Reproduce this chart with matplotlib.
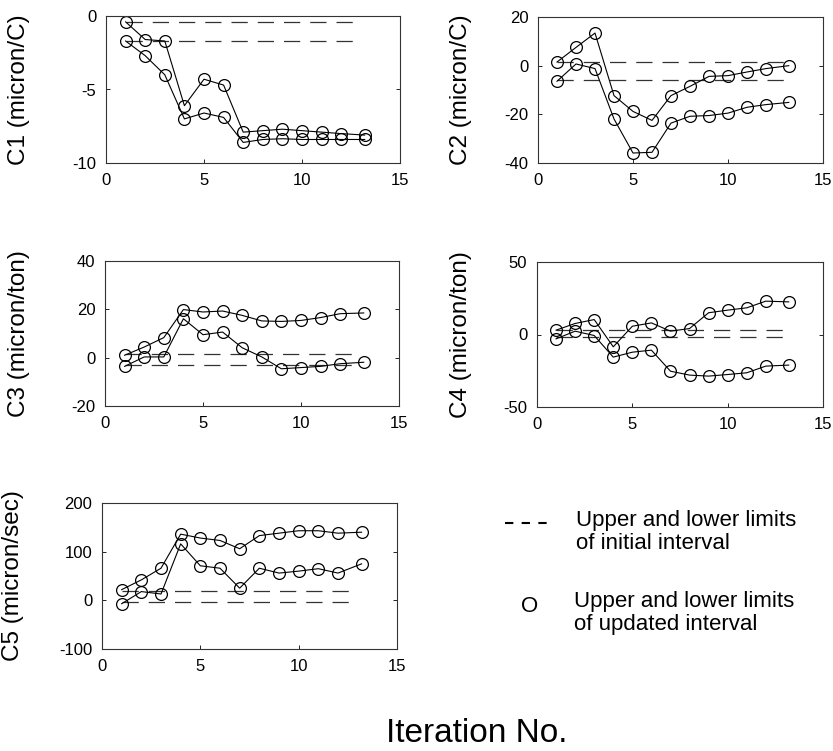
import matplotlib
matplotlib.use("Agg")
import matplotlib.pyplot as plt
from matplotlib.lines import Line2D

plt.rcParams['font.family'] = ['Liberation Sans', 'DejaVu Sans']
plt.rcParams['axes.unicode_minus'] = False

# iteration number (last one sits a little past 13 in the original)
iterations = [1, 2, 3, 4, 5, 6, 7, 8, 9, 10, 11, 12, 13.2]
init_span = [1, 13]

c1_upper = [-0.4, -1.6, -1.7, -6.1, -4.3, -4.7, -7.9, -7.8, -7.7, -7.8, -7.9, -8.0, -8.1]
c1_lower = [-1.7, -2.7, -4.0, -7.0, -6.6, -6.9, -8.6, -8.4, -8.35, -8.4, -8.4, -8.4, -8.4]
c1_init = [-0.4, -1.7]

c2_upper = [1.5, 7.5, 13.4, -12.3, -18.8, -22.5, -12.3, -8.5, -4.4, -4.1, -2.6, -1.2, 0.0]
c2_lower = [-6.4, 0.7, -1.2, -21.9, -35.9, -35.6, -23.6, -20.8, -20.5, -19.5, -17.1, -16.0, -15.1]
c2_init = [1.5, -5.8]

c3_upper = [1.0, 4.4, 8.3, 19.9, 18.9, 19.3, 17.5, 15.2, 15.0, 15.4, 16.6, 18.2, 18.5]
c3_lower = [-3.6, 0.3, 0.3, 16.1, 9.5, 10.6, 4.1, 0.3, -4.6, -4.1, -3.6, -2.5, -1.9]
c3_init = [1.4, -3.2]

c4_upper = [3.0, 7.6, 10.3, -8.5, 5.7, 8.0, 2.3, 4.1, 15.0, 16.8, 18.4, 23.0, 22.5]
c4_lower = [-3.0, 2.3, -0.7, -15.6, -12.2, -10.8, -25.3, -28.0, -28.7, -27.6, -26.4, -21.8, -21.1]
c4_init = [3.0, -1.8]

c5_upper = [22, 42, 66, 136, 128, 123, 106, 133, 138, 143, 143, 138, 140]
c5_lower = [-7, 18, 13, 116, 71, 66, 25, 66, 56, 60, 65, 56, 75]
c5_init = [20, -4]

ylabels = ['C1 (micron/C)', 'C2 (micron/C)', 'C3 (micron/ton)',
           'C4 (micron/ton)', 'C5 (micron/sec)']
ylims = [(-10, 0), (-40, 20), (-20, 40), (-50, 50), (-100, 200)]
yticks = [[-10, -5, 0], [-40, -20, 0, 20], [-20, 0, 20, 40],
          [-50, 0, 50], [-100, 0, 100, 200]]

W, H = 833, 751
# axes boxes in pixels: left, right, top, bottom, ylabel x
boxes = [(106, 400, 16, 163, 30),
         (538, 823, 17, 163, 472),
         (105, 399, 261, 406, 30),
         (537, 823, 262, 407, 472),
         (102, 397, 503, 649, 24)]

fig = plt.figure(figsize=(W / 100, H / 100), dpi=100)

panels = [(c1_upper, c1_lower, c1_init), (c2_upper, c2_lower, c2_init),
          (c3_upper, c3_lower, c3_init), (c4_upper, c4_lower, c4_init),
          (c5_upper, c5_lower, c5_init)]

for i, (upper, lower, init) in enumerate(panels):
    l, r, t, b, lx = boxes[i]
    ax = fig.add_axes([l / W, 1 - b / H, (r - l) / W, (b - t) / H])
    for lim in init:
        ax.plot(init_span, [lim, lim], color='#333333', lw=0.9,
                dashes=(13, 8))
    for series in (upper, lower):
        ax.plot(iterations, series, color='black', lw=0.8, marker='o',
                ms=8.5, mfc='none', mec='black', mew=0.9)
    ax.set_xlim(0, 15)
    ax.set_ylim(*ylims[i])
    ax.set_xticks([0, 5, 10, 15])
    ax.set_yticks(yticks[i])
    ax.tick_params(direction='in', length=3, width=0.6, labelsize=12,
                   right=True, pad=7)
    for s in ax.spines.values():
        s.set_linewidth(0.8)
        s.set_color('#333333')
    ax.set_ylabel(ylabels[i], fontsize=17.5)
    ax.yaxis.set_label_coords((lx - l) / (r - l), 0.5)

# legend drawn by hand on the empty cell
fig.add_artist(Line2D([505 / W, 552 / W], [1 - 523 / H, 1 - 523 / H],
                      color='black', lw=1.5, dashes=(4, 4)))
fig.text(576 / W, 1 - 510 / H, 'Upper and lower limits\nof initial interval',
         fontsize=16, va='top', ha='left', linespacing=1.1)
fig.text(530 / W, 1 - 607 / H, 'O', fontsize=16, ha='center', va='center')
fig.text(574 / W, 1 - 591 / H, 'Upper and lower limits\nof updated interval',
         fontsize=16, va='top', ha='left', linespacing=1.1)

fig.text(477 / W, 1 - 733 / H, 'Iteration No.', fontsize=24,
         ha='center', va='center')

fig.savefig('out.png', dpi=100)
